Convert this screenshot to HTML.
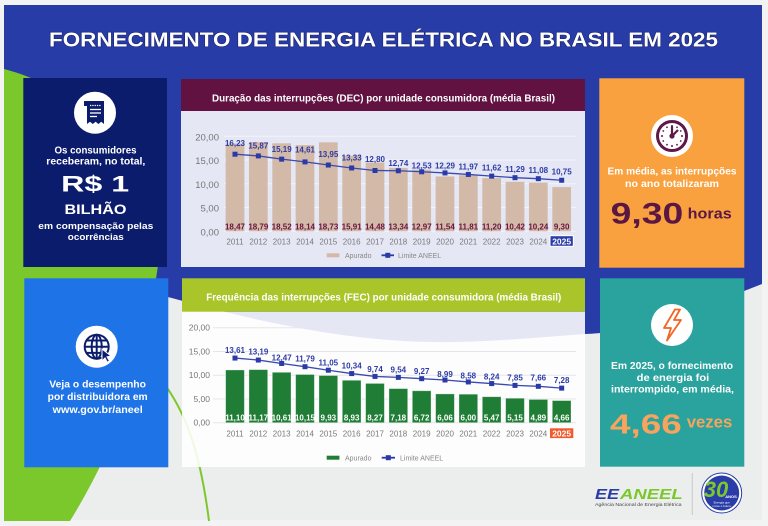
<!DOCTYPE html>
<html><head><meta charset="utf-8"><style>
html,body{margin:0;padding:0;background:#f3f3f3;}
svg{display:block;}
text{font-family:"Liberation Sans",sans-serif;}
.lb{font-size:8px;font-weight:bold;fill:#2d3ca6;text-anchor:middle;}
.db{font-size:8px;font-weight:bold;fill:#6a1540;text-anchor:middle;}
.fb{font-size:8px;font-weight:bold;fill:#ffffff;text-anchor:middle;}
.yr{font-size:8px;fill:#7a7a7a;text-anchor:middle;}
.ax{font-size:9.5px;fill:#777;text-anchor:end;}
.ax2{font-size:8.5px;fill:#777;text-anchor:end;}
.lg{font-size:7px;fill:#888;}
.wt{fill:#fff;font-weight:bold;text-anchor:middle;}
</style></head><body>
<svg width="768" height="526" viewBox="0 0 768 526" xmlns="http://www.w3.org/2000/svg">
<rect width="768" height="526" fill="#f3f3f3"/>
<rect x="4" y="5" width="758" height="515" fill="#eceeee"/>
<path d="M4,5 H762 V284 C720,300 650,332 585,334 C530,338 480,343 433,342 C360,341 280,328 168,297 L4,252 Z" fill="#283ca8"/>
<path d="M4,69 C80,88 175,170 157,272 C145,360 120,440 70,521 L4,521 Z" fill="#7bc82d"/>
<path d="M160,378 C185,410 200,450 209,521" stroke="#7bc82d" stroke-width="2" fill="none"/>

<!-- Title -->
<text x="49" y="46.7" font-size="20" font-weight="bold" fill="#fff" stroke="#1b2570" stroke-width="1.2" paint-order="stroke" textLength="669" lengthAdjust="spacingAndGlyphs">FORNECIMENTO DE ENERGIA ELÉTRICA NO BRASIL EM 2025</text>

<!-- DEC chart -->
<rect x="181" y="111" width="404" height="156" fill="#fff" fill-opacity="0.88"/>
<rect x="181" y="79" width="404" height="32" fill="#621240"/>
<text x="383.5" y="101.5" font-size="10" font-weight="bold" fill="#fff" text-anchor="middle" textLength="343" lengthAdjust="spacingAndGlyphs">Duração das interrupções (DEC) por unidade consumidora (média Brasil)</text>
<g stroke="#f4f4fb" stroke-width="1">
<line x1="224" y1="136.3" x2="576" y2="136.3"/><line x1="224" y1="160.05" x2="576" y2="160.05"/><line x1="224" y1="183.8" x2="576" y2="183.8"/><line x1="224" y1="207.55" x2="576" y2="207.55"/><line x1="224" y1="231.3" x2="576" y2="231.3"/>
</g>
<text class="ax" x="219" y="140.3">20,00</text><text class="ax" x="219" y="164">15,00</text><text class="ax" x="219" y="187.8">10,00</text><text class="ax" x="219" y="211.5">5,00</text><text class="ax" x="219" y="235.3">0,00</text>
<g fill="#d3b9a8">
<rect x="225.65" y="143.57" width="18.7" height="87.73"/>
<rect x="248.98" y="142.05" width="18.7" height="89.25"/>
<rect x="272.32" y="143.33" width="18.7" height="87.97"/>
<rect x="295.65" y="145.13" width="18.7" height="86.17"/>
<rect x="318.98" y="142.33" width="18.7" height="88.97"/>
<rect x="342.32" y="155.73" width="18.7" height="75.57"/>
<rect x="365.65" y="162.52" width="18.7" height="68.78"/>
<rect x="388.98" y="167.93" width="18.7" height="63.37"/>
<rect x="412.32" y="169.69" width="18.7" height="61.61"/>
<rect x="435.65" y="176.48" width="18.7" height="54.82"/>
<rect x="458.98" y="175.2" width="18.7" height="56.1"/>
<rect x="482.32" y="178.1" width="18.7" height="53.2"/>
<rect x="505.65" y="181.8" width="18.7" height="49.5"/>
<rect x="528.98" y="182.66" width="18.7" height="48.64"/>
<rect x="552.32" y="187.12" width="18.7" height="44.18"/>
</g>
<polyline points="235,154.21 258.33,155.92 281.67,159.15 305,161.9 328.33,165.04 351.67,167.98 375,170.5 398.33,170.78 421.67,171.78 445,172.92 468.33,174.44 491.67,176.1 515,177.67 538.33,178.67 561.67,180.24" fill="none" stroke="#3a4ab0" stroke-width="1.3"/>
<g fill="#2a3aa6">
<rect x="232.5" y="151.71" width="5" height="5"/><rect x="255.83" y="153.42" width="5" height="5"/><rect x="279.17" y="156.65" width="5" height="5"/><rect x="302.5" y="159.4" width="5" height="5"/><rect x="325.83" y="162.54" width="5" height="5"/><rect x="349.17" y="165.48" width="5" height="5"/><rect x="372.5" y="168" width="5" height="5"/><rect x="395.83" y="168.28" width="5" height="5"/><rect x="419.17" y="169.28" width="5" height="5"/><rect x="442.5" y="170.42" width="5" height="5"/><rect x="465.83" y="171.94" width="5" height="5"/><rect x="489.17" y="173.6" width="5" height="5"/><rect x="512.5" y="175.17" width="5" height="5"/><rect x="535.83" y="176.17" width="5" height="5"/><rect x="559.17" y="177.74" width="5" height="5"/>
</g>
<text class="lb" x="235" y="146">16,23</text><text class="lb" x="258.33" y="148.7">15,87</text><text class="lb" x="281.67" y="152">15,19</text><text class="lb" x="305" y="152.7">14,61</text><text class="lb" x="328.33" y="157">13,95</text><text class="lb" x="351.67" y="160.3">13,33</text><text class="lb" x="375" y="162">12,80</text><text class="lb" x="398.33" y="166">12,74</text><text class="lb" x="421.67" y="168.3">12,53</text><text class="lb" x="445" y="168.3">12,29</text><text class="lb" x="468.33" y="169.7">11,97</text><text class="lb" x="491.67" y="170.3">11,62</text><text class="lb" x="515" y="172">11,29</text><text class="lb" x="538.33" y="173">11,08</text><text class="lb" x="561.67" y="174.3">10,75</text>
<text class="db" x="235" y="229.5">18,47</text><text class="db" x="258.33" y="229.5">18,79</text><text class="db" x="281.67" y="229.5">18,52</text><text class="db" x="305" y="229.5">18,14</text><text class="db" x="328.33" y="229.5">18,73</text><text class="db" x="351.67" y="229.5">15,91</text><text class="db" x="375" y="229.5">14,48</text><text class="db" x="398.33" y="229.5">13,34</text><text class="db" x="421.67" y="229.5">12,97</text><text class="db" x="445" y="229.5">11,54</text><text class="db" x="468.33" y="229.5">11,81</text><text class="db" x="491.67" y="229.5">11,20</text><text class="db" x="515" y="229.5">10,42</text><text class="db" x="538.33" y="229.5">10,24</text><text class="db" x="561.67" y="229.5">9,30</text>
<text class="yr" x="235" y="244.5">2011</text><text class="yr" x="258.33" y="244.5">2012</text><text class="yr" x="281.67" y="244.5">2013</text><text class="yr" x="305" y="244.5">2014</text><text class="yr" x="328.33" y="244.5">2015</text><text class="yr" x="351.67" y="244.5">2016</text><text class="yr" x="375" y="244.5">2017</text><text class="yr" x="398.33" y="244.5">2018</text><text class="yr" x="421.67" y="244.5">2019</text><text class="yr" x="445" y="244.5">2020</text><text class="yr" x="468.33" y="244.5">2021</text><text class="yr" x="491.67" y="244.5">2022</text><text class="yr" x="515" y="244.5">2023</text><text class="yr" x="538.33" y="244.5">2024</text>
<rect x="550" y="235.7" width="23.3" height="10.6" fill="#2a3ca8" stroke="#fff" stroke-width="1"/>
<text x="561.67" y="244.6" font-size="8.5" font-weight="bold" fill="#fff" text-anchor="middle">2025</text>
<rect x="326.7" y="253.3" width="12.7" height="4" fill="#d3b9a8"/>
<text class="lg" x="345" y="258">Apurado</text>
<line x1="381.5" y1="255.3" x2="394" y2="255.3" stroke="#2a3aa6" stroke-width="1.8"/>
<rect x="385.3" y="252.8" width="5" height="5" fill="#2a3aa6"/>
<text class="lg" x="398" y="258">Limite ANEEL</text>

<!-- FEC chart -->
<rect x="182" y="311.7" width="403" height="155.3" fill="#fff" fill-opacity="0.88"/>
<rect x="182" y="278.3" width="403" height="33.4" fill="#a9c52a"/>
<text x="383.8" y="300.5" font-size="10" font-weight="bold" fill="#fff" text-anchor="middle" textLength="355" lengthAdjust="spacingAndGlyphs">Frequência das interrupções (FEC) por unidade consumidora (média Brasil)</text>
<g stroke="#e6e6ea" stroke-width="1">
<line x1="213" y1="327.7" x2="576" y2="327.7"/><line x1="213" y1="351.45" x2="576" y2="351.45"/><line x1="213" y1="375.2" x2="576" y2="375.2"/><line x1="213" y1="398.95" x2="576" y2="398.95"/><line x1="213" y1="422.7" x2="576" y2="422.7"/>
</g>
<text class="ax2" x="210" y="330.7">20,00</text><text class="ax2" x="210" y="354.5">15,00</text><text class="ax2" x="210" y="378.2">10,00</text><text class="ax2" x="210" y="402">5,00</text><text class="ax2" x="210" y="425.7">0,00</text>
<g fill="#1f7d36" stroke="#ffffff" stroke-opacity="0.4" stroke-width="0.8">
<rect x="225.65" y="369.97" width="18.7" height="52.73"/>
<rect x="248.98" y="369.64" width="18.7" height="53.06"/>
<rect x="272.32" y="372.3" width="18.7" height="50.4"/>
<rect x="295.65" y="374.49" width="18.7" height="48.21"/>
<rect x="318.98" y="375.53" width="18.7" height="47.17"/>
<rect x="342.32" y="380.28" width="18.7" height="42.42"/>
<rect x="365.65" y="383.42" width="18.7" height="39.28"/>
<rect x="388.98" y="388.59" width="18.7" height="34.11"/>
<rect x="412.32" y="390.78" width="18.7" height="31.92"/>
<rect x="435.65" y="393.91" width="18.7" height="28.79"/>
<rect x="458.98" y="394.2" width="18.7" height="28.5"/>
<rect x="482.32" y="396.72" width="18.7" height="25.98"/>
<rect x="505.65" y="398.24" width="18.7" height="24.46"/>
<rect x="528.98" y="399.47" width="18.7" height="23.23"/>
<rect x="552.32" y="400.56" width="18.7" height="22.14"/>
</g>
<polyline points="235,358.05 258.33,360.05 281.67,363.47 305,366.7 328.33,370.21 351.67,373.58 375,376.43 398.33,377.38 421.67,378.67 445,380 468.33,381.94 491.67,383.56 515,385.41 538.33,386.31 561.67,388.12" fill="none" stroke="#3a4ab0" stroke-width="1.3"/>
<g fill="#2a3aa6">
<rect x="232.5" y="355.55" width="5" height="5"/><rect x="255.83" y="357.55" width="5" height="5"/><rect x="279.17" y="360.97" width="5" height="5"/><rect x="302.5" y="364.2" width="5" height="5"/><rect x="325.83" y="367.71" width="5" height="5"/><rect x="349.17" y="371.08" width="5" height="5"/><rect x="372.5" y="373.93" width="5" height="5"/><rect x="395.83" y="374.88" width="5" height="5"/><rect x="419.17" y="376.17" width="5" height="5"/><rect x="442.5" y="377.5" width="5" height="5"/><rect x="465.83" y="379.44" width="5" height="5"/><rect x="489.17" y="381.06" width="5" height="5"/><rect x="512.5" y="382.91" width="5" height="5"/><rect x="535.83" y="383.81" width="5" height="5"/><rect x="559.17" y="385.62" width="5" height="5"/>
</g>
<text class="lb" x="235" y="353">13,61</text><text class="lb" x="258.33" y="354.7">13,19</text><text class="lb" x="281.67" y="360.3">12,47</text><text class="lb" x="305" y="361.3">11,79</text><text class="lb" x="328.33" y="365.3">11,05</text><text class="lb" x="351.67" y="368.7">10,34</text><text class="lb" x="375" y="372">9,74</text><text class="lb" x="398.33" y="372.3">9,54</text><text class="lb" x="421.67" y="374">9,27</text><text class="lb" x="445" y="377">8,99</text><text class="lb" x="468.33" y="378.7">8,58</text><text class="lb" x="491.67" y="379.7">8,24</text><text class="lb" x="515" y="380.3">7,85</text><text class="lb" x="538.33" y="380.3">7,66</text><text class="lb" x="561.67" y="383">7,28</text>
<text class="fb" x="235" y="420.5">11,10</text><text class="fb" x="258.33" y="420.5">11,17</text><text class="fb" x="281.67" y="420.5">10,61</text><text class="fb" x="305" y="420.5">10,15</text><text class="fb" x="328.33" y="420.5">9,93</text><text class="fb" x="351.67" y="420.5">8,93</text><text class="fb" x="375" y="420.5">8,27</text><text class="fb" x="398.33" y="420.5">7,18</text><text class="fb" x="421.67" y="420.5">6,72</text><text class="fb" x="445" y="420.5">6,06</text><text class="fb" x="468.33" y="420.5">6,00</text><text class="fb" x="491.67" y="420.5">5,47</text><text class="fb" x="515" y="420.5">5,15</text><text class="fb" x="538.33" y="420.5">4,89</text><text class="fb" x="561.67" y="420.5">4,66</text>
<text class="yr" x="235" y="436.5">2011</text><text class="yr" x="258.33" y="436.5">2012</text><text class="yr" x="281.67" y="436.5">2013</text><text class="yr" x="305" y="436.5">2014</text><text class="yr" x="328.33" y="436.5">2015</text><text class="yr" x="351.67" y="436.5">2016</text><text class="yr" x="375" y="436.5">2017</text><text class="yr" x="398.33" y="436.5">2018</text><text class="yr" x="421.67" y="436.5">2019</text><text class="yr" x="445" y="436.5">2020</text><text class="yr" x="468.33" y="436.5">2021</text><text class="yr" x="491.67" y="436.5">2022</text><text class="yr" x="515" y="436.5">2023</text><text class="yr" x="538.33" y="436.5">2024</text>
<rect x="550" y="428.3" width="23.3" height="9.8" fill="#f15a2b"/>
<text x="561.67" y="436.6" font-size="8.5" font-weight="bold" fill="#fff" text-anchor="middle">2025</text>
<rect x="326.7" y="455.7" width="12.7" height="4" fill="#1f7d36"/>
<text class="lg" x="345" y="460.3">Apurado</text>
<line x1="381.7" y1="457.7" x2="395" y2="457.7" stroke="#2a3aa6" stroke-width="1.8"/>
<rect x="385.8" y="455.2" width="5" height="5" fill="#2a3aa6"/>
<text class="lg" x="400" y="460.3">Limite ANEEL</text>

<!-- Left top navy box -->
<rect x="23.3" y="78" width="143.7" height="189" fill="#0c1c6c"/>
<circle cx="95" cy="112.7" r="21" fill="#fff"/>
<path d="M87,101 h17 v23 l-2.8,-2.2 -2.8,2.2 -2.8,-2.2 -2.8,2.2 -2.8,-2.2 -3,2.2 z" fill="#0c1c6c"/>
<path d="M84,101 h5 v5 h-5 z" fill="#0c1c6c"/>
<g stroke="#fff" stroke-width="1.3">
<line x1="90" y1="105.5" x2="101" y2="105.5" stroke-dasharray="1.3,1"/>
<line x1="90" y1="109.5" x2="101" y2="109.5"/>
<line x1="90" y1="113" x2="101" y2="113"/>
<line x1="90" y1="116.5" x2="97" y2="116.5"/>
</g>
<text class="wt" x="95.5" y="153.5" font-size="10" textLength="82" lengthAdjust="spacingAndGlyphs">Os consumidores</text>
<text class="wt" x="95.8" y="164.5" font-size="10" textLength="99" lengthAdjust="spacingAndGlyphs">receberam, no total,</text>
<text class="wt" x="95.2" y="191.7" font-size="22" textLength="68" lengthAdjust="spacingAndGlyphs">R$ 1</text>
<text class="wt" x="95.5" y="214" font-size="14" textLength="62" lengthAdjust="spacingAndGlyphs">BILHÃO</text>
<text class="wt" x="95.8" y="229" font-size="9.5" font-weight="normal" textLength="115" lengthAdjust="spacingAndGlyphs">em compensação pelas</text>
<text class="wt" x="95.8" y="240" font-size="9.5" font-weight="normal" textLength="56" lengthAdjust="spacingAndGlyphs">ocorrências</text>

<!-- Left bottom blue box -->
<rect x="24.3" y="278.3" width="144" height="189" fill="#1e73e6"/>
<circle cx="96.7" cy="346.7" r="21" fill="#fff"/>
<g stroke="#0c1c6c" stroke-width="2" fill="none">
<circle cx="96.7" cy="346.7" r="12"/>
<ellipse cx="96.7" cy="346.7" rx="5" ry="12"/>
<line x1="96.7" y1="334.7" x2="96.7" y2="358.7"/>
<line x1="84.7" y1="346.7" x2="108.7" y2="346.7"/>
<line x1="86.5" y1="340.5" x2="107" y2="340.5"/>
<line x1="86.5" y1="352.9" x2="107" y2="352.9"/>
</g>
<polygon points="102,349 111,356 107,356.8 109.5,361 107.3,362.2 105,358 102,361" fill="#0c1c6c" stroke="#fff" stroke-width="1"/>
<text class="wt" x="97.6" y="387.5" font-size="10" textLength="96.7" lengthAdjust="spacingAndGlyphs">Veja o desempenho</text>
<text class="wt" x="97.7" y="400" font-size="10" textLength="100" lengthAdjust="spacingAndGlyphs">por distribuidora em</text>
<text class="wt" x="97.7" y="412.8" font-size="10" font-weight="normal" textLength="90" lengthAdjust="spacingAndGlyphs">www.gov.br/aneel</text>

<!-- Right top orange box -->
<rect x="599.3" y="78.3" width="145" height="189.4" fill="#f9a03f"/>
<circle cx="672" cy="136" r="21" fill="#fff"/>
<circle cx="672" cy="136" r="14.5" fill="#fff" stroke="#5e1a47" stroke-width="3"/>
<g fill="#5e1a47">
<circle cx="672" cy="126" r="1"/><circle cx="682" cy="136" r="1"/><circle cx="672" cy="146" r="1"/><circle cx="662" cy="136" r="1"/>
<circle cx="677" cy="127.3" r="0.9"/><circle cx="680.7" cy="131" r="0.9"/><circle cx="680.7" cy="141" r="0.9"/><circle cx="677" cy="144.7" r="0.9"/>
<circle cx="667" cy="144.7" r="0.9"/><circle cx="663.3" cy="141" r="0.9"/><circle cx="663.3" cy="131" r="0.9"/><circle cx="667" cy="127.3" r="0.9"/>
<circle cx="672" cy="136" r="2.6"/>
</g>
<line x1="672" y1="136" x2="672" y2="126.5" stroke="#5e1a47" stroke-width="2.2"/>
<line x1="672" y1="136" x2="678" y2="130" stroke="#5e1a47" stroke-width="2.2"/>
<text class="wt" x="672" y="174.5" font-size="10" font-weight="normal" textLength="129" lengthAdjust="spacingAndGlyphs">Em média, as interrupções</text>
<text class="wt" x="672" y="186.8" font-size="10" font-weight="normal" textLength="94" lengthAdjust="spacingAndGlyphs">no ano totalizaram</text>
<text x="610.7" y="223.3" font-size="30" font-weight="bold" fill="#5b1744" textLength="72.6" lengthAdjust="spacingAndGlyphs">9,30</text>
<text x="687.7" y="218.5" font-size="15" font-weight="bold" fill="#5b1744" textLength="44" lengthAdjust="spacingAndGlyphs">horas</text>

<!-- Right bottom teal box -->
<rect x="600" y="278.3" width="144.3" height="188.4" fill="#2aa39e"/>
<circle cx="672" cy="325" r="21" fill="#fff"/>
<path d="M675,309.5 L664,328 L671,328 L667,340.5 L681,320 L674,320 L680,309.5 Z" fill="none" stroke="#f26522" stroke-width="1.8" stroke-linejoin="round"/>
<text class="wt" x="672" y="369" font-size="10.5" font-weight="normal" textLength="122" lengthAdjust="spacingAndGlyphs">Em 2025, o fornecimento</text>
<text class="wt" x="673" y="380.8" font-size="10.5" font-weight="normal" textLength="72.6" lengthAdjust="spacingAndGlyphs">de energia foi</text>
<text class="wt" x="672.5" y="392.5" font-size="10.5" font-weight="normal" textLength="123" lengthAdjust="spacingAndGlyphs">interrompido, em média,</text>
<text x="610" y="433.3" font-size="28" font-weight="bold" fill="#f8a45c" textLength="71.7" lengthAdjust="spacingAndGlyphs">4,66</text>
<text x="686.7" y="427.5" font-size="17" font-weight="bold" fill="#f8a45c" textLength="45.6" lengthAdjust="spacingAndGlyphs">vezes</text>

<!-- Logos -->
<text x="595" y="499" font-size="15" font-weight="bold" font-style="italic" fill="#2a3ca8" textLength="24" lengthAdjust="spacingAndGlyphs">EE</text>
<text x="620" y="499" font-size="15" font-weight="bold" font-style="italic" fill="#7bc82d" textLength="62.7" lengthAdjust="spacingAndGlyphs">ANEEL</text>
<text x="595" y="506" font-size="4.5" fill="#444" textLength="86.5" lengthAdjust="spacingAndGlyphs">Agência Nacional de Energia Elétrica</text>
<line x1="692.3" y1="473" x2="692.3" y2="515" stroke="#c9c9c9" stroke-width="1"/>
<circle cx="721.7" cy="493" r="20" fill="#fff" stroke="#2a3ca8" stroke-width="1"/>
<circle cx="721.7" cy="493" r="17.5" fill="#2a3ca8"/>
<text x="716" y="497" font-size="22" font-weight="bold" font-style="italic" fill="#7bc82d" text-anchor="middle">30</text>
<text x="731" y="498" font-size="4" font-weight="bold" fill="#fff" text-anchor="middle">ANOS</text>
<text x="721.7" y="503.5" font-size="3" fill="#fff" text-anchor="middle">Energia que</text>
<text x="721.7" y="507" font-size="3" fill="#fff" text-anchor="middle">move o futuro</text>
</svg>
</body></html>
